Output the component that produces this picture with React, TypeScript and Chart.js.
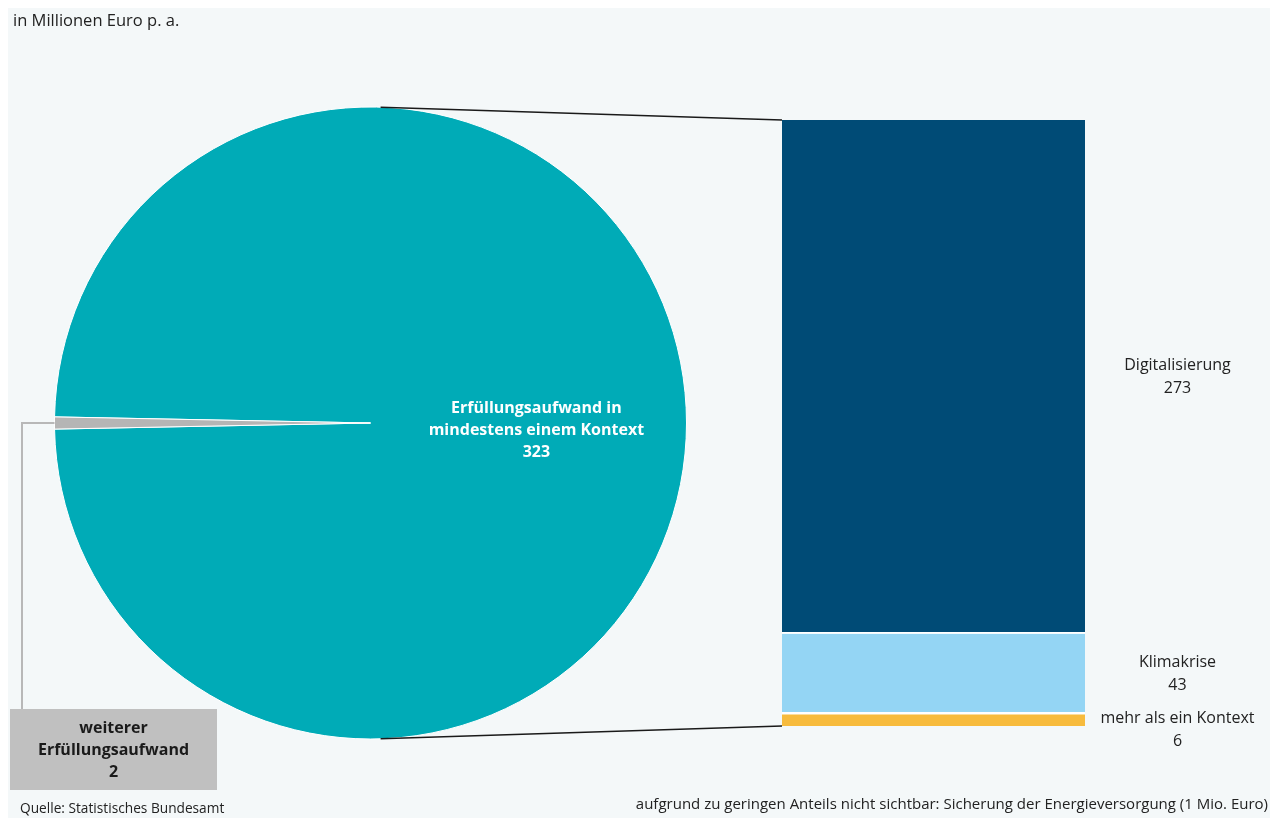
import React, { useEffect, useRef } from "react";
import { Chart, registerables } from "chart.js";

Chart.register(...registerables);

// ---------- data ----------
const TITLE = "in Millionen Euro p. a.";
const SOURCE = "Quelle: Statistisches Bundesamt";
const NOTE =
  "aufgrund zu geringen Anteils nicht sichtbar: Sicherung der Energieversorgung (1 Mio. Euro)";

const pieCategories = [
  "Erfüllungsaufwand in mindestens einem Kontext",
  "weiterer Erfüllungsaufwand",
];
const pieValues = [323, 2];
const pieLabelLines = [
  ["Erfüllungsaufwand in", "mindestens einem Kontext"],
  ["weiterer", "Erfüllungsaufwand"],
];
const pieColors = ["#00abb7", "#b5b5b5"];

const barCategories = [
  "Sicherung der Energieversorgung",
  "mehr als ein Kontext",
  "Klimakrise",
  "Digitalisierung",
];
const barValues = [1, 6, 43, 273];
const barVisible = [false, true, true, true];
const barColors = ["#7fb446", "#f7bb3d", "#94d5f4", "#004b76"];

// ---------- layout ----------
const W = 1262;
const H = 810;
const FONT = "'Open Sans', 'Noto Sans', sans-serif";
const PIE_LEFT = 32;
const PIE_TOP = 85;
const PIE_W = 661;
const PIE_H = 660;
const PIE_R = 316;
const BAR_LEFT = 774;
const BAR_TOP = 102;
const BAR_W = 488;
const BAR_H = 650;
const BOX = { x: 2, y: 701, w: 207, h: 81 };

const barLabelPlugin = {
  id: "barLabels",
  afterDatasetsDraw(chart: any) {
    const ctx = chart.ctx;
    const area = chart.chartArea;
    const cxText = area.right + (chart.width - area.right) / 2;
    const lh = 23;
    const gap = 10;
    const items: { lines: string[]; center: number }[] = [];
    for (let i = chart.data.datasets.length - 1; i >= 0; i--) {
      if (!chart.isDatasetVisible(i)) continue;
      const el = chart.getDatasetMeta(i).data[0];
      const p = el.getProps(["y", "base"], true);
      items.push({
        lines: [barCategories[i], String(barValues[i])],
        center: (p.y + p.base) / 2,
      });
    }
    ctx.save();
    ctx.font = `16px ${FONT}`;
    ctx.fillStyle = "#222222";
    ctx.textAlign = "center";
    ctx.textBaseline = "middle";
    let prevBottom = -Infinity;
    for (const it of items) {
      const h = it.lines.length * lh;
      let top = it.center - h / 2;
      if (top < prevBottom + gap) top = prevBottom + gap;
      it.lines.forEach((t, k) => ctx.fillText(t, cxText, top + lh / 2 + k * lh));
      prevBottom = top + h;
    }
    ctx.restore();
  },
};

export default function App() {
  const pieRef = useRef<HTMLCanvasElement>(null);
  const barRef = useRef<HTMLCanvasElement>(null);
  const ovRef = useRef<HTMLCanvasElement>(null);

  useEffect(() => {
    Chart.defaults.font.family = FONT;
    const total = pieValues.reduce((a, b) => a + b, 0);
    const rotation = 270 - (360 * (pieValues[0] + pieValues[1] / 2)) / total;

    const pie = new Chart(pieRef.current!, {
      type: "pie",
      data: {
        labels: pieCategories,
        datasets: [
          {
            data: pieValues,
            backgroundColor: pieColors,
            borderColor: "#ffffff",
            borderWidth: 1,
          },
        ],
      },
      options: {
        responsive: false,
        animation: false,
        rotation,
        radius: PIE_R,
        layout: { padding: 0 },
        events: [],
        plugins: { legend: { display: false }, tooltip: { enabled: false } },
      } as any,
    });

    const visibleSum = barValues.reduce((s, v, i) => s + (barVisible[i] ? v : 0), 0);
    const bar = new Chart(barRef.current!, {
      type: "bar",
      data: {
        labels: ["Erfüllungsaufwand in mindestens einem Kontext"],
        datasets: barCategories.map((c, i) => ({
          label: c,
          data: [barValues[i]],
          backgroundColor: barColors[i],
          hidden: !barVisible[i],
          borderColor: "#ffffff",
          borderSkipped: false,
          borderWidth: { top: 0, left: 0, right: 0, bottom: i === 3 ? 2 : i === 2 ? 3 : 0 },
          barPercentage: 1,
          categoryPercentage: 1,
        })),
      },
      options: {
        responsive: false,
        animation: false,
        events: [],
        layout: { padding: { top: 10, bottom: 34, left: 0, right: 185 } },
        scales: {
          x: { display: false, stacked: true },
          y: { display: false, stacked: true, min: 0, max: visibleSum },
        },
        plugins: { legend: { display: false }, tooltip: { enabled: false } },
      } as any,
      plugins: [barLabelPlugin],
    });

    // ---------- overlay: connectors & pie labels ----------
    const ov = ovRef.current!;
    const ctx = ov.getContext("2d")!;
    ctx.clearRect(0, 0, W, H);
    const pMeta = pie.getDatasetMeta(0);
    const a0: any = (pMeta.data[0] as any).getProps(
      ["x", "y", "outerRadius", "startAngle", "endAngle"],
      true
    );
    const a1: any = (pMeta.data[1] as any).getProps(
      ["x", "y", "outerRadius", "startAngle", "endAngle"],
      true
    );
    const cx = PIE_LEFT + a0.x;
    const cy = PIE_TOP + a0.y;
    const R = a0.outerRadius;

    let top = Infinity;
    let bottom = -Infinity;
    let left = 0;
    bar.data.datasets.forEach((_d, i) => {
      if (!bar.isDatasetVisible(i)) return;
      const el: any = (bar.getDatasetMeta(i).data[0] as any).getProps(
        ["x", "y", "base", "width"],
        true
      );
      top = Math.min(top, el.y);
      bottom = Math.max(bottom, el.base);
      left = el.x - el.width / 2;
    });
    const pTop = { x: BAR_LEFT + left, y: BAR_TOP + top };
    const pBot = { x: BAR_LEFT + left, y: BAR_TOP + bottom };

    const tangent = (P: { x: number; y: number }, sign: number) => {
      const dx = P.x - cx;
      const dy = P.y - cy;
      const d = Math.hypot(dx, dy);
      const phi = Math.atan2(dy, dx);
      const alpha = Math.acos(R / d);
      const ang = phi + sign * alpha;
      return { x: cx + R * Math.cos(ang), y: cy + R * Math.sin(ang) };
    };
    const tTop = tangent(pTop, -1);
    const tBot = tangent(pBot, 1);
    ctx.strokeStyle = "#1a1a1a";
    ctx.lineWidth = 1.5;
    ctx.beginPath();
    ctx.moveTo(tTop.x, tTop.y);
    ctx.lineTo(pTop.x, pTop.y);
    ctx.moveTo(tBot.x, tBot.y);
    ctx.lineTo(pBot.x, pBot.y);
    ctx.stroke();

    const mid1 = (a1.startAngle + a1.endAngle) / 2;
    const sx = cx + R * Math.cos(mid1);
    const sy = cy + R * Math.sin(mid1);
    const lx = BOX.x + 12;
    ctx.strokeStyle = "#b8b8b8";
    ctx.lineWidth = 2;
    ctx.beginPath();
    ctx.moveTo(sx, sy);
    ctx.lineTo(lx, sy);
    ctx.lineTo(lx, BOX.y);
    ctx.stroke();

    ctx.fillStyle = "#c0c0c0";
    ctx.fillRect(BOX.x, BOX.y, BOX.w, BOX.h);
    ctx.font = `bold 16px ${FONT}`;
    ctx.textAlign = "center";
    ctx.textBaseline = "middle";
    ctx.fillStyle = "#1a1a1a";
    const boxLines = [...pieLabelLines[1], String(pieValues[1])];
    const bcx = BOX.x + BOX.w / 2;
    const bcy = BOX.y + BOX.h / 2 + 1;
    boxLines.forEach((t, k) =>
      ctx.fillText(t, bcx, bcy + (k - (boxLines.length - 1) / 2) * 22)
    );

    const mid0 = (a0.startAngle + a0.endAngle) / 2;
    const mx = cx + 0.525 * R * Math.cos(mid0);
    const my = cy + 0.525 * R * Math.sin(mid0) + 7;
    ctx.fillStyle = "#ffffff";
    const mainLines = [...pieLabelLines[0], String(pieValues[0])];
    mainLines.forEach((t, k) =>
      ctx.fillText(t, mx, my + (k - (mainLines.length - 1) / 2) * 22)
    );

    return () => {
      pie.destroy();
      bar.destroy();
    };
  }, []);

  return (
    <div
      style={{
        position: "fixed",
        left: 8,
        top: 8,
        width: W,
        height: H,
        background: "#f4f8f9",
        fontFamily: FONT,
        color: "#222222",
        overflow: "hidden",
      }}
    >
      <canvas
        ref={pieRef}
        width={PIE_W}
        height={PIE_H}
        style={{ position: "absolute", left: PIE_LEFT, top: PIE_TOP, width: PIE_W, height: PIE_H }}
      />
      <canvas
        ref={barRef}
        width={BAR_W}
        height={BAR_H}
        style={{ position: "absolute", left: BAR_LEFT, top: BAR_TOP, width: BAR_W, height: BAR_H }}
      />
      <canvas
        ref={ovRef}
        width={W}
        height={H}
        style={{ position: "absolute", left: 0, top: 0, width: W, height: H, pointerEvents: "none" }}
      />
      <div style={{ position: "absolute", left: 5, top: 2, fontSize: 16.5, lineHeight: "20px" }}>
        {TITLE}
      </div>
      <div style={{ position: "absolute", left: 12, top: 790, fontSize: 13.7, lineHeight: "20px" }}>
        {SOURCE}
      </div>
      <div style={{ position: "absolute", right: 2, top: 785, fontSize: 15, lineHeight: "20px" }}>
        {NOTE}
      </div>
    </div>
  );
}
